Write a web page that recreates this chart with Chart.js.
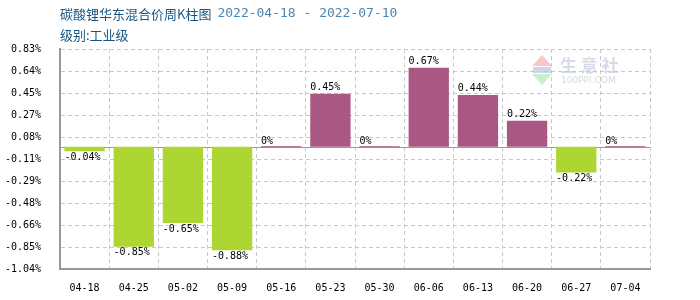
<!DOCTYPE html>
<html>
<head>
<meta charset="utf-8">
<script src="https://cdn.jsdelivr.net/npm/chart.js@4.4.0/dist/chart.umd.min.js"></script>
<style>
  html, body { margin: 0; padding: 0; background: #fff; }
  #wrap { width: 700px; height: 300px; position: relative; }
</style>
</head>
<body>
<div id="wrap"><canvas id="chart"></canvas></div>
<script>
'use strict';

// ── Data ─────────────────────────────────────────────────────────────────────
const weeks  = ['04-18', '04-25', '05-02', '05-09', '05-16', '05-23',
                '05-30', '06-06', '06-13', '06-20', '06-27', '07-04'];
const change = [-0.04, -0.85, -0.65, -0.88, 0, 0.45, 0, 0.67, 0.44, 0.22, -0.22, 0];
// y tick labels, bottom to top
const yTickLabels = ['-1.04%', '-0.85%', '-0.66%', '-0.48%', '-0.29%', '-0.11%',
                     '0.08%', '0.27%', '0.45%', '0.64%', '0.83%'];
const Y_MIN = -1.04;
const Y_MAX = 0.83;

const TITLE    = '碳酸锂华东混合价周K柱图';
const DATES    = '2022-04-18 - 2022-07-10';
const SUBTITLE = '级别:工业级';

const UP_COLOR   = '#a95783';
const DOWN_COLOR = '#add632';
const GRID_COLOR = '#c8c8c8';
const AXIS_COLOR = '#999';
const MONO = '"DejaVu Sans Mono", "Liberation Mono", monospace';

// ── Plugins ──────────────────────────────────────────────────────────────────
const headerPlugin = {
  id: 'header',
  beforeDraw(chart) {
    const ctx = chart.ctx;
    ctx.save();
    ctx.textBaseline = 'middle';
    ctx.textAlign = 'left';
    ctx.font = '13px "Noto Sans CJK SC", sans-serif';
    ctx.fillStyle = '#175584';
    ctx.fillText(TITLE, 60, 14);
    const w = ctx.measureText(TITLE).width;
    ctx.font = '13px ' + MONO;
    ctx.fillStyle = '#4a86b4';
    ctx.fillText(DATES, 60 + w + 6, 14);
    ctx.font = '13px "Noto Sans CJK SC", sans-serif';
    ctx.fillStyle = '#175584';
    ctx.fillText(SUBTITLE, 60, 35);

    // watermark
    ctx.globalAlpha = 0.55;
    ctx.fillStyle = '#f29b9b';
    ctx.beginPath();
    ctx.moveTo(542, 55); ctx.lineTo(552, 66); ctx.lineTo(532, 66); ctx.closePath();
    ctx.fill();
    ctx.fillStyle = '#9be0a4';
    ctx.beginPath();
    ctx.moveTo(532, 74); ctx.lineTo(552, 74); ctx.lineTo(542, 85); ctx.closePath();
    ctx.fill();
    ctx.fillStyle = '#a8b4d0';
    ctx.fillRect(533, 67, 18, 6);
    ctx.font = 'bold 17px "Noto Sans CJK SC", sans-serif';
    ctx.fillStyle = '#b4bed6';
    ctx.fillText('生 意 社', 560, 66);
    ctx.font = '9px "DejaVu Sans", sans-serif';
    ctx.fillStyle = '#b8b8b8';
    ctx.fillText('100PPI.COM', 561, 81);
    ctx.restore();
  },
};

const zeroLinePlugin = {
  id: 'zeroLine',
  beforeDatasetsDraw(chart) {
    const { ctx, chartArea, scales } = chart;
    const y = Math.round(scales.y.getPixelForValue(0)) + 0.5;
    ctx.save();
    ctx.strokeStyle = AXIS_COLOR;
    ctx.lineWidth = 1;
    ctx.beginPath();
    ctx.moveTo(chartArea.left, y);
    ctx.lineTo(chartArea.right, y);
    ctx.stroke();
    ctx.restore();
  },
};

const valueLabelPlugin = {
  id: 'valueLabels',
  afterDatasetsDraw(chart) {
    const ctx = chart.ctx;
    const meta = chart.getDatasetMeta(0);
    ctx.save();
    ctx.font = '10px ' + MONO;
    ctx.fillStyle = '#000';
    ctx.textAlign = 'left';
    meta.data.forEach((bar, i) => {
      const v = change[i];
      const left = bar.x - bar.width / 2;
      if (v < 0) {
        ctx.textBaseline = 'top';
        ctx.fillText(v.toFixed(2) + '%', left, bar.y + 1);
      } else {
        ctx.textBaseline = 'bottom';
        ctx.fillText(v === 0 ? '0%' : v.toFixed(2) + '%', left, bar.y - 1);
      }
    });
    ctx.restore();
  },
};

// ── Chart ────────────────────────────────────────────────────────────────────
new Chart(document.getElementById('chart'), {
  type: 'bar',
  data: {
    labels: weeks,
    datasets: [{
      data: change,
      backgroundColor: change.map(v => (v < 0 ? DOWN_COLOR : UP_COLOR)),
      borderWidth: 0,
      barPercentage: 0.82,
      categoryPercentage: 1,
      minBarLength: 1,
    }],
  },
  options: {
    responsive: true,
    maintainAspectRatio: false,
    animation: false,
    layout: { padding: { top: 49, right: 50, left: 0, bottom: 0 } },
    plugins: {
      legend: { display: false },
      tooltip: { enabled: false },
    },
    scales: {
      x: {
        grid: { offset: true, color: GRID_COLOR, drawTicks: false },
        border: { color: AXIS_COLOR, width: 2, dash: [4, 3] },
        ticks: {
          color: '#000',
          font: { family: MONO, size: 10 },
          padding: 13,
          maxRotation: 0,
        },
        afterFit(scale) { scale.height = 31; },
      },
      y: {
        min: Y_MIN,
        max: Y_MAX,
        afterBuildTicks(scale) {
          const step = (Y_MAX - Y_MIN) / (yTickLabels.length - 1);
          scale.ticks = yTickLabels.map((_, i) => ({ value: Y_MIN + i * step }));
        },
        grid: { color: GRID_COLOR, drawTicks: false },
        border: { color: AXIS_COLOR, width: 2, dash: [4, 3] },
        ticks: {
          color: '#000',
          font: { family: MONO, size: 10 },
          padding: 19,
          callback: (v, i) => yTickLabels[i],
        },
        afterFit(scale) { scale.width = 60; },
      },
    },
  },
  plugins: [headerPlugin, zeroLinePlugin, valueLabelPlugin],
});
</script>
</body>
</html>
